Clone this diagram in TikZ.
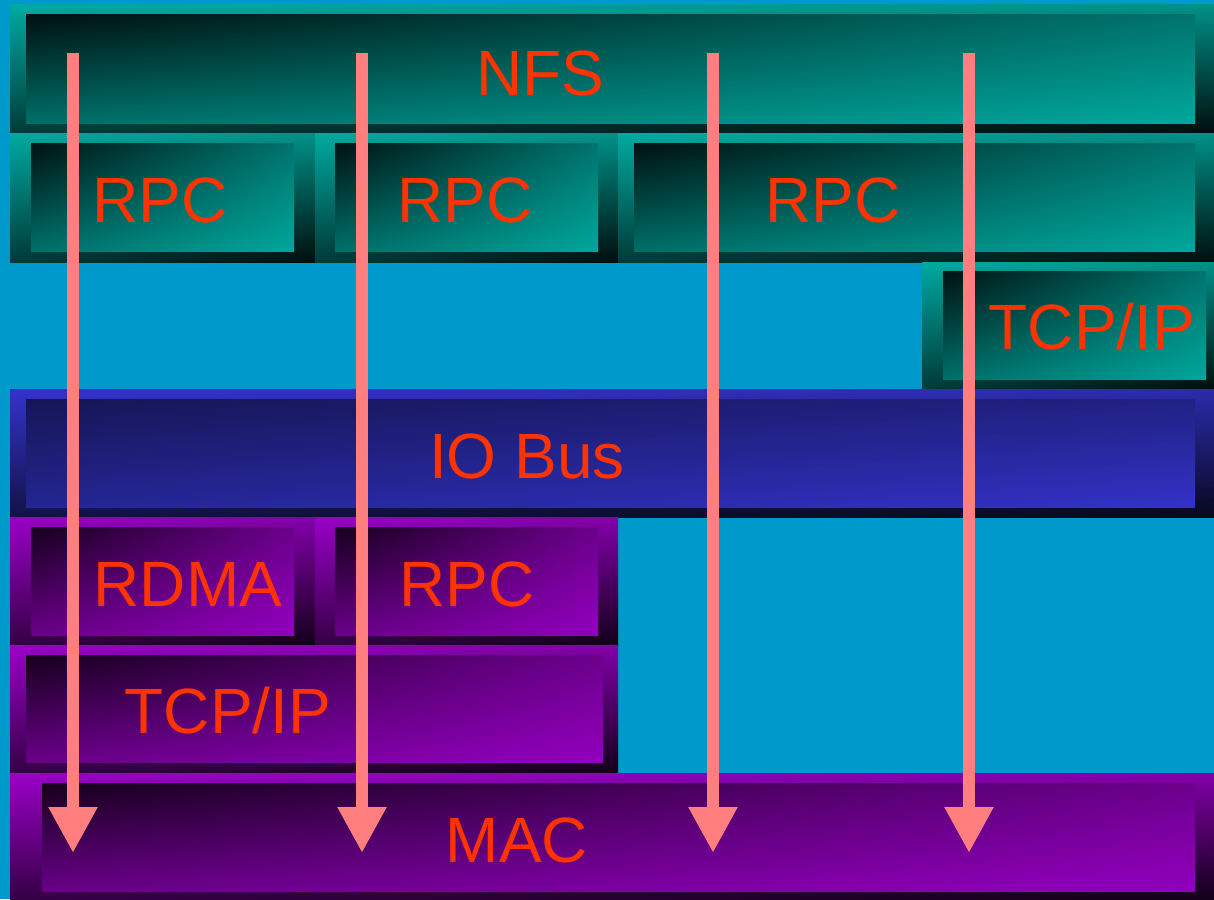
\documentclass[tikz,border=0pt]{standalone}
\usepackage{fontspec}
\setmainfont{Liberation Sans}
\usetikzlibrary{arrows.meta,shadings}
\definecolor{bgc}{HTML}{0099CC}
\definecolor{tB}{HTML}{00AAA0}
\definecolor{bB}{HTML}{3333CC}
\definecolor{pB}{HTML}{9A00C8}
\definecolor{txt}{HTML}{FF3300}
\definecolor{arc}{HTML}{FF7F7F}
\tikzset{
  fT/.style={upper left=tB, upper right=tB!85!black, lower left=tB!35!black, lower right=tB!8!black},
  iT/.style={upper left=tB!10!black, upper right=tB!68!black, lower left=tB!65!black, lower right=tB!98!black},
  fB/.style={upper left=bB, upper right=bB!85!black, lower left=bB!35!black, lower right=bB!15!black},
  iB/.style={upper left=bB!42!black, upper right=bB!65!black, lower left=bB!72!black, lower right=bB!98!black},
  fP/.style={upper left=pB, upper right=pB!85!black, lower left=pB!35!black, lower right=pB!12!black},
  iP/.style={upper left=pB!14!black, upper right=pB!70!black, lower left=pB!68!black, lower right=pB!95!black},
  lbl/.style={text=txt, font=\fontsize{64}{70}\selectfont, inner sep=0pt, anchor=base},
  arr/.style={draw=arc, line width=12pt, -{Triangle[length=46pt,width=46pt]}},
}
\newcommand\lyr[5]{\shade[f#1] (#2) rectangle (#3); \shade[i#1] (#4) rectangle (#5);}
\begin{document}
\begin{tikzpicture}[x=1pt,y=-1pt]
\fill[bgc] (0,0) rectangle (1214,899);
\useasboundingbox (0,0) rectangle (1214,899);
% teal layers
\lyr{T}{10,5}{1214,133}{26,15}{1195,123}
\lyr{T}{10,133}{315,262}{31,143}{294,251}
\lyr{T}{315,133}{618,262}{335,143}{598,251}
\lyr{T}{618,133}{1214,262}{634,143}{1195,251}
\lyr{T}{922,262}{1214,389}{943,271}{1206,379}
% IO bus
\lyr{B}{10,389}{1214,517}{26,399}{1195,507}
% purple layers
\lyr{P}{10,517}{315,645}{31,527}{294,635}
\lyr{P}{315,517}{618,645}{335,527}{598,635}
\lyr{P}{10,645}{618,773}{26,655}{603,762}
\lyr{P}{10,773}{1214,899}{42,783}{1195,891}
% labels
\node[lbl] (nfs) at (540,95) {NFS};
\node[lbl] (rpc1) at (160,222) {RPC};
\node[lbl] (rpc2) at (465,222) {RPC};
\node[lbl] (rpc3) at (833,222) {RPC};
\node[lbl] (tcp1) at (1092,349) {TCP/IP};
\node[lbl] (iob) at (527,478) {IO Bus};
\node[lbl] (rdma) at (188,606) {RDMA};
\node[lbl] (rpc4) at (467,606) {RPC};
\node[lbl] (tcp2) at (228,733) {TCP/IP};
\node[lbl] (mac) at (517,862) {MAC};
% arrows
\coordinate (s1) at (73,53);  \coordinate (e1) at (73,853);
\coordinate (s2) at (362,53); \coordinate (e2) at (362,853);
\coordinate (s3) at (713,53); \coordinate (e3) at (713,853);
\coordinate (s4) at (969,53); \coordinate (e4) at (969,853);
\draw[arr] (s1) -- (e1);
\draw[arr] (s2) -- (e2);
\draw[arr] (s3) -- (e3);
\draw[arr] (s4) -- (e4);
\end{tikzpicture}
\end{document}
